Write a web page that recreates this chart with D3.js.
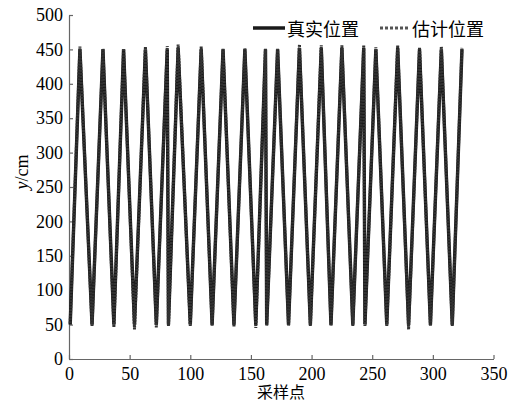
<!DOCTYPE html>
<html>
<head>
<meta charset="utf-8">
<script src="https://cdn.jsdelivr.net/npm/d3@7"></script>
<style>
  html, body { margin: 0; padding: 0; background: #fff; }
  svg { display: block; }
</style>
</head>
<body>
<svg id="chart" width="525" height="402"></svg>
<script>
// Sample indices of turning points (vertices) of the trajectories
const samplePoints = [1, 9, 19, 28, 37, 45, 54, 63, 72, 81, 82, 90, 100, 109, 118, 127, 136, 145, 154, 162,
                      163, 172, 181, 190, 199, 208, 216, 225, 234, 243, 244, 253, 262, 271, 280, 289, 298, 307, 316, 324];
// True position y (cm)
const trueY = [50, 450, 50, 450, 50, 450, 50, 450, 50, 450, 50, 452, 50, 450, 50, 450, 50, 450, 50, 450,
               50, 450, 50, 452, 50, 452, 50, 452, 50, 452, 50, 450, 50, 452, 50, 450, 50, 450, 50, 450];
// Estimated position y (cm)
const estY  = [52, 454, 48, 451, 46, 451, 43, 454, 46, 455, 48, 457, 48, 454, 48, 451, 47, 452, 45, 451,
               48, 451, 48, 457, 48, 456, 48, 456, 48, 456, 48, 453, 48, 456, 43, 453, 48, 454, 48, 453];
const xTicks = [0, 50, 100, 150, 200, 250, 300, 350];
const yTicks = [0, 50, 100, 150, 200, 250, 300, 350, 400, 450, 500];
const legendLabels = ["真实位置", "估计位置"];
const xLabel = "采样点";

const svg = d3.select("#chart");
const x = d3.scaleLinear().domain([0, 350]).range([69, 493.5]);
const y = d3.scaleLinear().domain([0, 500]).range([359, 15]);

const axisColor = "#666";
const tickFont = "Liberation Serif, Times New Roman, serif";
const cjkFont = "Noto Sans CJK SC, sans-serif";

// axes
const gx = svg.append("g").attr("transform", `translate(0,${y(0)})`)
  .call(d3.axisBottom(x).tickValues(xTicks).tickSizeInner(-4).tickSizeOuter(0).tickPadding(8).tickFormat(d3.format("d")));
const gy = svg.append("g").attr("transform", `translate(${x(0)},0)`)
  .call(d3.axisLeft(y).tickValues(yTicks).tickSizeInner(-4).tickSizeOuter(0).tickPadding(6).tickFormat(d3.format("d")));
[gx, gy].forEach(g => {
  g.attr("font-family", tickFont).attr("font-size", 18);
  g.select(".domain").attr("stroke", axisColor).attr("stroke-width", 1.2);
  g.selectAll(".tick line").attr("stroke", axisColor).attr("stroke-width", 1.2);
  g.selectAll(".tick text").attr("fill", "#000").attr("font-family", tickFont).attr("font-size", 18);
});

// lines
const trueData = samplePoints.map((s, i) => [s, trueY[i]]);
const estData = samplePoints.map((s, i) => [s, estY[i]]);
const line = d3.line().x(d => x(d[0])).y(d => y(d[1]));

svg.append("path").datum(trueData).attr("d", line)
  .attr("fill", "none").attr("stroke", "#1a1a1a").attr("stroke-width", 3.4).attr("stroke-linejoin", "miter").attr("stroke-miterlimit", 20);
svg.append("path").datum(estData).attr("d", line)
  .attr("fill", "none").attr("stroke", "#333").attr("stroke-width", 3).attr("stroke-dasharray", "2,1").attr("stroke-linejoin", "miter").attr("stroke-miterlimit", 20);

// legend
const lg = svg.append("g");
lg.append("line").attr("x1", 253).attr("x2", 285).attr("y1", 28).attr("y2", 28)
  .attr("stroke", "#1a1a1a").attr("stroke-width", 3.5);
lg.append("text").attr("x", 287).attr("y", 28).attr("dominant-baseline", "central")
  .attr("font-family", cjkFont).attr("font-size", 18).attr("fill", "#000").text(legendLabels[0]);
lg.append("line").attr("x1", 380).attr("x2", 410).attr("y1", 28).attr("y2", 28)
  .attr("stroke", "#555").attr("stroke-width", 3).attr("stroke-dasharray", "3,2");
lg.append("text").attr("x", 412).attr("y", 28).attr("dominant-baseline", "central")
  .attr("font-family", cjkFont).attr("font-size", 18).attr("fill", "#000").text(legendLabels[1]);

// axis titles
svg.append("text").attr("x", 281).attr("y", 391).attr("text-anchor", "middle").attr("dominant-baseline", "central")
  .attr("font-family", cjkFont).attr("font-size", 16).attr("fill", "#000").text(xLabel);
const yl = svg.append("text").attr("transform", "translate(22,172) rotate(-90)")
  .attr("text-anchor", "middle").attr("dominant-baseline", "central")
  .attr("font-family", tickFont).attr("font-size", 18).attr("fill", "#000");
yl.append("tspan").attr("font-style", "italic").text("y");
yl.append("tspan").text("/cm");
</script>
</body>
</html>
